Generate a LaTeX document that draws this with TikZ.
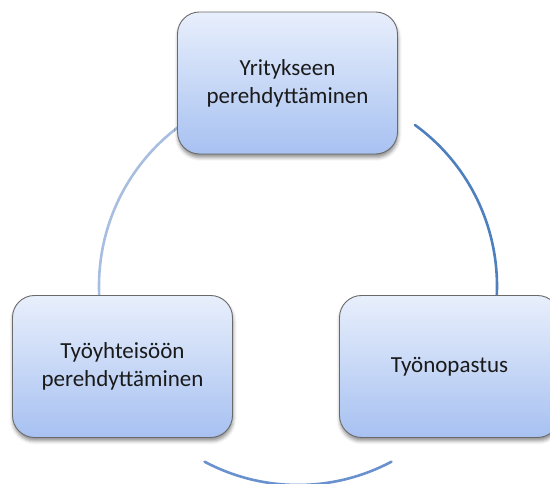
\documentclass[tikz,border=0pt]{standalone}
\usepackage{fontspec}
\setmainfont{Carlito}
\usetikzlibrary{shadows.blur}
\definecolor{boxtop}{HTML}{E8EFFC}
\definecolor{boxbot}{HTML}{A7C1F1}
\definecolor{boxline}{HTML}{6A6A6A}
\definecolor{arcA}{HTML}{A8BEE0}
\definecolor{arcB}{HTML}{4E7FBE}
\definecolor{arcC}{HTML}{6891CE}
\definecolor{txt}{HTML}{1A1A1A}
\tikzset{
  stagebox/.style={draw=boxline, line width=0.9pt, rounded corners=22pt,
    top color=boxtop, bottom color=boxbot, minimum width=220pt, minimum height=142pt,
    align=center, text=txt, font=\fontsize{23}{28}\selectfont,
    blur shadow={shadow xshift=0.5pt, shadow yshift=-3.5pt, shadow blur radius=3.5pt, shadow opacity=45}},
  ring/.style={line width=2.6pt, line cap=round}
}
\begin{document}
\begin{tikzpicture}[x=1pt,y=1pt]
\useasboundingbox (0,0) rectangle (550,484);
\clip (0,0) rectangle (550,484);
\coordinate (c) at (298,198);
\draw[ring, arcA] (c) ++(183:199) arc[start angle=183, end angle=126.5, radius=199];
\draw[ring, arcB] (c) ++(54:199) arc[start angle=54, end angle=-6.5, radius=199];
\draw[ring, arcC] (c) ++(-118:199) arc[start angle=-118, end angle=-62, radius=199];
\node[stagebox] (yr) at (287.5,401) {Yritykseen\\perehdyttäminen};
\node[stagebox] (ty) at (122.5,117.5) {Työyhteisöön\\perehdyttäminen};
\node[stagebox] (op) at (449.5,117.5) {Työnopastus};
\end{tikzpicture}
\end{document}
